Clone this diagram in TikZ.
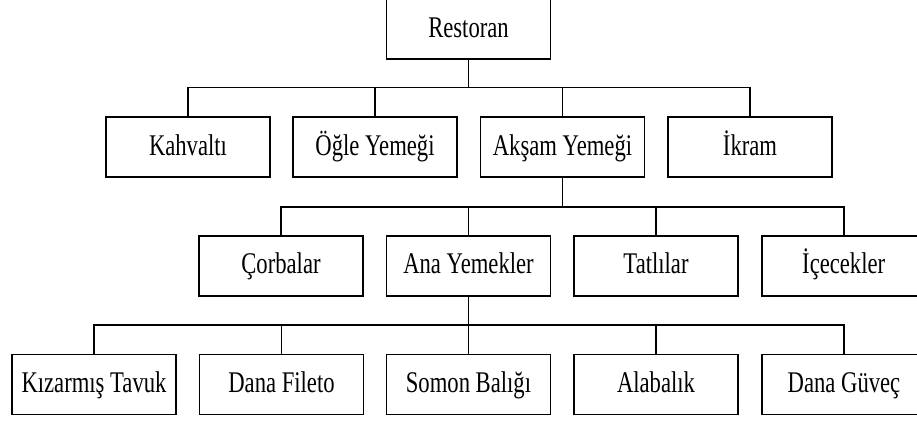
\documentclass[tikz,border=0pt]{standalone}
\usepackage{fontspec}
\setmainfont{Liberation Serif}[FakeStretch=0.755]
\begin{document}
\begin{tikzpicture}[x=1pt,y=-1pt,
  box/.style={draw, line width=1.8pt, minimum width=164pt, minimum height=60pt,
    inner sep=0pt, text height=21.5pt, text depth=5.5pt,
    font=\fontsize{30}{35}\selectfont},
  link/.style={line width=1.8pt}]
\useasboundingbox (0,0) rectangle (917,421);
\node[box] (r) at (468.5,29) {Restoran};
% level 1
\node[box] (k) at (188,147) {Kahvaltı};
\node[box] (o) at (375,147) {Öğle Yemeği};
\node[box] (a) at (562.5,147) {Akşam Yemeği};
\node[box] (i) at (750,147) {İkram};
% level 2
\node[box] (c) at (281,265.7) {Çorbalar};
\node[box] (y) at (468.5,265.7) {Ana Yemekler};
\node[box] (t) at (656,265.7) {Tatlılar};
\node[box] (e) at (843.7,265.7) {İçecekler};
% level 3
\node[box] (kt) at (94,384.5) {Kızarmış Tavuk};
\node[box] (df) at (281.5,384.5) {Dana Fileto};
\node[box] (sb) at (468.5,384.5) {Somon Balığı};
\node[box] (al) at (656,384.5) {Alabalık};
\node[box] (dg) at (844,384.5) {Dana Güveç};
% buses
\coordinate (b1) at (0,87.5);
\coordinate (b2) at (0,206.7);
\coordinate (b3) at (0,325);
\draw[link] (r.south) -- (r.south |- b1);
\draw[link] (k.north) -- (k.north |- b1) -- (i.north |- b1) -- (i.north);
\draw[link] (o.north) -- (o.north |- b1);
\draw[link] (a.north) -- (a.north |- b1);
\draw[link] (a.south) -- (a.south |- b2);
\draw[link] (c.north) -- (c.north |- b2) -- (e.north |- b2) -- (e.north);
\draw[link] (y.north) -- (y.north |- b2);
\draw[link] (t.north) -- (t.north |- b2);
\draw[link] (y.south) -- (y.south |- b3);
\draw[link] (kt.north) -- (kt.north |- b3) -- (dg.north |- b3) -- (dg.north);
\draw[link] (df.north) -- (df.north |- b3);
\draw[link] (sb.north) -- (sb.north |- b3);
\draw[link] (al.north) -- (al.north |- b3);
\end{tikzpicture}
\end{document}
